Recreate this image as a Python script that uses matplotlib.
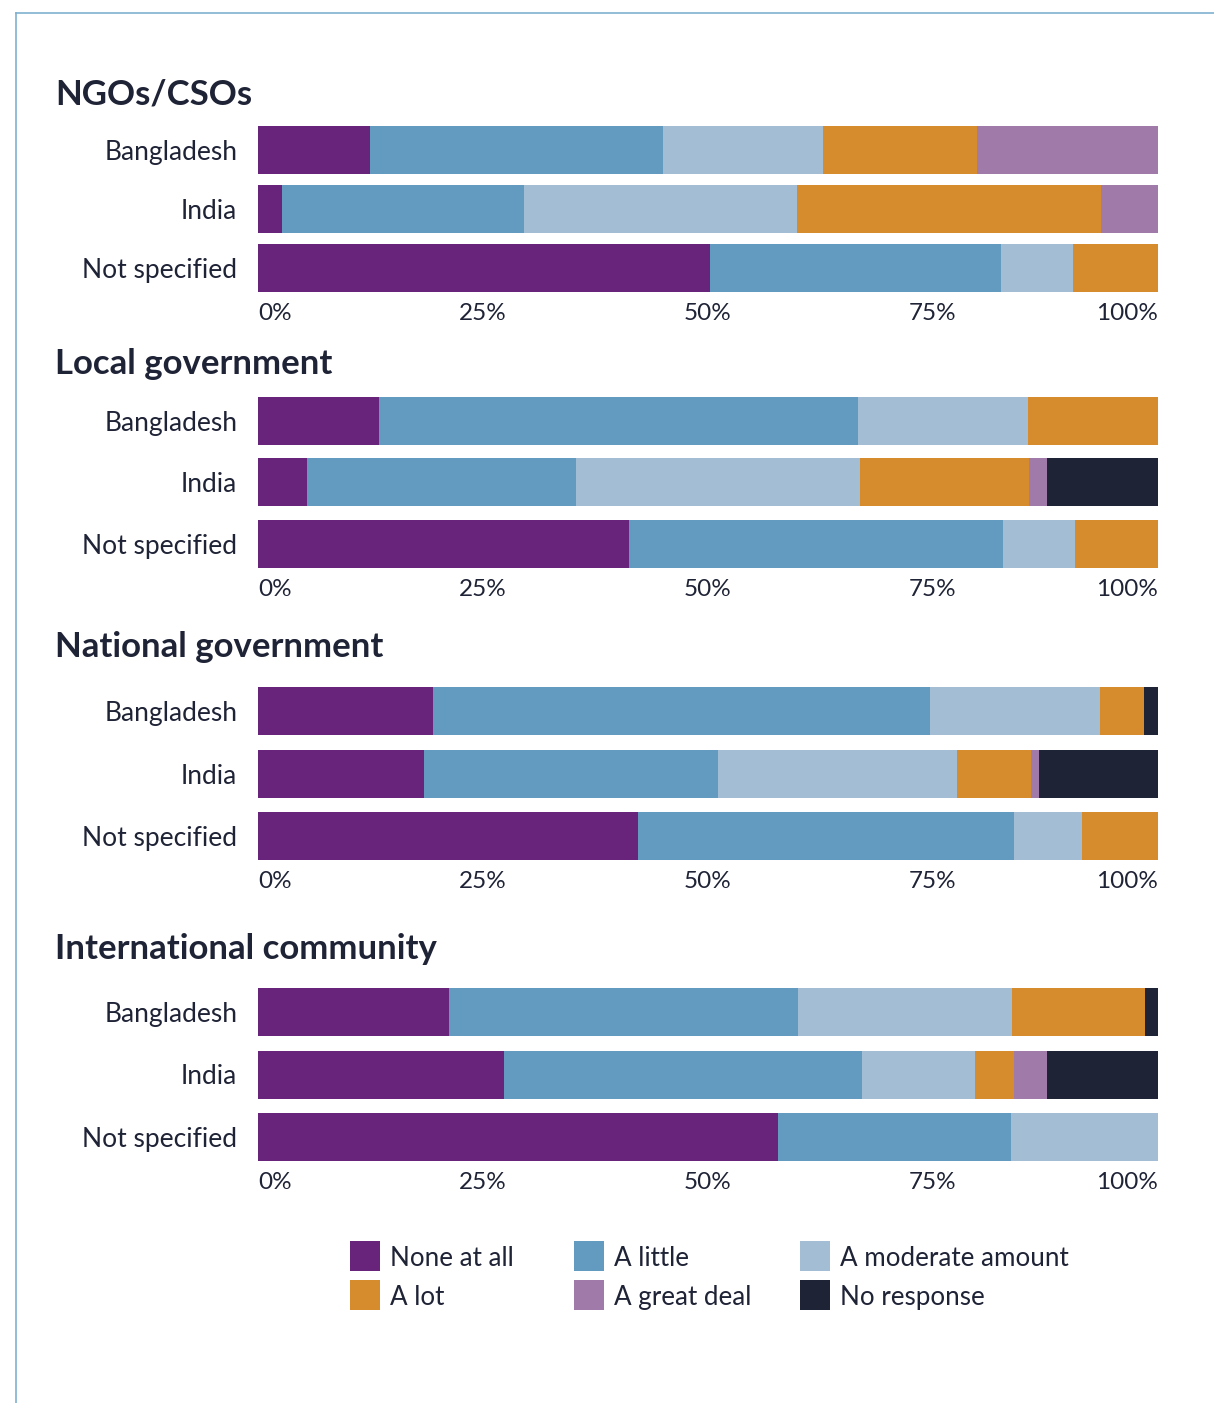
import matplotlib as mpl
mpl.use('Agg')
import matplotlib.pyplot as plt
from matplotlib.patches import Rectangle
from matplotlib.lines import Line2D
import numpy as np

plt.rcParams['font.family'] = ['Lato', 'DejaVu Sans']

# response scale, colours and rows
levels = ['None at all', 'A little', 'A moderate amount', 'A lot', 'A great deal', 'No response']
colors = ['#68237A', '#629BBF', '#A3BED4', '#D68B2C', '#A07BA9', '#1F2336']
countries = ['Bangladesh', 'India', 'Not specified']

# share of respondents (%) per country, one row per country, one column per level
ngos = [[12.4, 32.6, 17.8, 17.1, 20.1, 0.0],
        [2.7, 26.8, 30.4, 33.8, 6.3, 0.0],
        [50.2, 32.4, 7.9, 9.5, 0.0, 0.0]]
local_gov = [[13.4, 53.3, 18.9, 14.4, 0.0, 0.0],
             [5.4, 29.9, 31.6, 18.8, 2.0, 12.3],
             [41.2, 41.6, 8.0, 9.2, 0.0, 0.0]]
national_gov = [[19.4, 55.3, 18.8, 4.9, 0.0, 1.6],
                [18.4, 32.7, 26.6, 8.2, 0.9, 13.2],
                [42.2, 41.8, 7.6, 8.4, 0.0, 0.0]]
intl_comm = [[21.2, 38.8, 23.8, 14.7, 0.0, 1.5],
             [27.3, 39.8, 12.6, 4.3, 3.7, 12.3],
             [57.8, 25.9, 16.3, 0.0, 0.0, 0.0]]

titles = ['NGOs/CSOs', 'Local government', 'National government', 'International community']
panels = [ngos, local_gov, national_gov, intl_comm]
xticks = [0, 25, 50, 75, 100]
xticklabels = ['0%', '25%', '50%', '75%', '100%']

text_col = '#1F2336'
W, H = 1214, 1403
fig = plt.figure(figsize=(W / 100, H / 100), dpi=100)

def px_axes(left, top, width, height):
    return fig.add_axes([left / W, 1 - (top + height) / H, width / W, height / H])

# panel geometry in pixels
bar_tops = [126, 397, 687, 988]
bar_bottoms = [292, 568, 860, 1161]
title_base = [104, 374, 657, 959]
bar_px = 48

for data, title, top, bottom, tb in zip(panels, titles, bar_tops, bar_bottoms, title_base):
    pitch = (bottom - top - bar_px) / 2
    hb = bar_px / pitch
    ax = px_axes(258, top, 900, bottom - top)
    vals = np.array(data)
    y = np.arange(len(countries))
    left = np.zeros(len(countries))
    for j in range(len(levels)):
        ax.barh(y, vals[:, j], left=left, height=hb, color=colors[j], linewidth=0)
        left += vals[:, j]
    ax.set_xlim(0, 100)
    ax.set_ylim(2 + hb / 2, -hb / 2)
    ax.set_yticks(y)
    ax.set_yticklabels(countries, fontsize=19, color=text_col, va='center_baseline')
    ax.set_xticks(xticks)
    ax.set_xticklabels(xticklabels, fontsize=17.5, color=text_col)
    ax.tick_params(axis='y', length=0, pad=15)
    ax.tick_params(axis='x', length=0, pad=8)
    tl = ax.get_xticklabels()
    tl[0].set_ha('left')
    tl[0].set_x(-0.9)
    tl[-1].set_ha('right')
    for s in ax.spines.values():
        s.set_visible(False)
    fig.text(55 / W, 1 - tb / H, title, fontsize=25, fontweight='bold',
             color=text_col, ha='left', va='baseline')

# legend, two rows of three
leg_x = [350, 574, 800]
leg_y = [1241, 1280]
order = [[0, 1, 2], [3, 4, 5]]
for r, row in enumerate(order):
    for c, k in enumerate(row):
        fig.add_artist(Rectangle((leg_x[c] / W, 1 - (leg_y[r] + 30) / H), 30 / W, 30 / H,
                                 transform=fig.transFigure, color=colors[k], linewidth=0))
        fig.text((leg_x[c] + 40) / W, 1 - (leg_y[r] + 15) / H, levels[k], fontsize=18.7,
                 color=text_col, ha='left', va='center_baseline')

# thin frame along top and left
fig.add_artist(Line2D([16 / W, 1], [1 - 13 / H, 1 - 13 / H], transform=fig.transFigure,
                      color='#7FB0D0', linewidth=1.2))
fig.add_artist(Line2D([16 / W, 16 / W], [0, 1 - 13 / H], transform=fig.transFigure,
                      color='#7FB0D0', linewidth=1.2))

fig.savefig('out.png', dpi=100)
